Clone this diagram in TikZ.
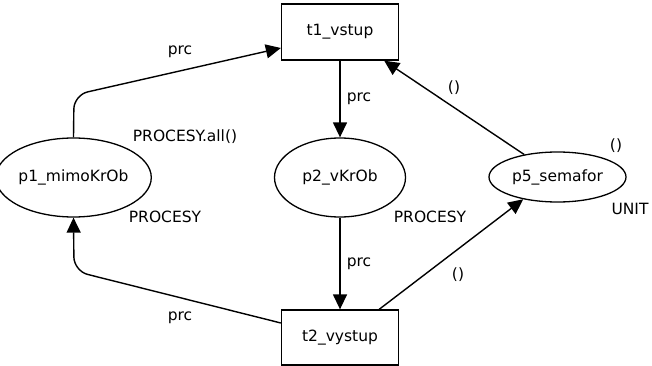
\documentclass[tikz,border=0pt]{standalone}
\usepackage{fontspec}
\setmainfont{DejaVu Sans}
\usetikzlibrary{arrows.meta,shapes.geometric}
\begin{document}
\begin{tikzpicture}[x=1pt,y=-1pt,
  every node/.style={font=\fontsize{15.5}{18}\selectfont},
  place/.style={draw,line width=1.3pt,ellipse,inner sep=0pt},
  trans/.style={draw,line width=1.3pt,rectangle,inner sep=0pt},
  arc/.style={line width=1.4pt,-{Triangle[length=15pt,width=14pt]},rounded corners=14pt},
  lbl/.style={inner sep=0pt}]
\useasboundingbox (0,0) rectangle (652,366);
% transitions
\node[trans,minimum width=117pt,minimum height=56pt] (t1) at (340,32) {t1\_vstup};
\node[trans,minimum width=117pt,minimum height=55pt] (t2) at (340,337.5) {t2\_vystup};
% places
\node[place,minimum width=131pt,minimum height=79pt] (p1) at (73.5,177.5) {p1\_mimoKrOb};
\node[place,minimum width=131pt,minimum height=79pt] (p2) at (340,177.5) {p2\_vKrOb};
\node[place,minimum width=137pt,minimum height=50pt] (p5) at (557.5,177) {p5\_semafor};
% arcs
\draw[arc] (p1.north) -- (74,95) -- (t1.west |- 0,48);
\draw[arc] (t2.west |- 0,323) -- (74,271) -- (p1.south);
\draw[arc] (t1) -- (p2);
\draw[arc] (p2) -- (t2);
\draw[arc] (p5.146) -- ([xshift=-15pt]t1.south east);
\draw[arc] ([xshift=-20pt]t2.north east) -- (p5.213);
% inscriptions
\node[lbl] (l1) at (180,52) {prc};
\node[lbl] (l2) at (185,137) {PROCESY.all()};
\node[lbl] (l3) at (165,217) {PROCESY};
\node[lbl] (l4) at (180,318) {prc};
\node[lbl] (l5) at (359,99) {prc};
\node[lbl] (l6) at (359,264) {prc};
\node[lbl] (l7) at (430,217) {PROCESY};
\node[lbl] (l8) at (454,88) {()};
\node[lbl] (l9) at (458,275) {()};
\node[lbl] (l10) at (616,146) {()};
\node[lbl] (l11) at (630,209) {UNIT};
\end{tikzpicture}
\end{document}
